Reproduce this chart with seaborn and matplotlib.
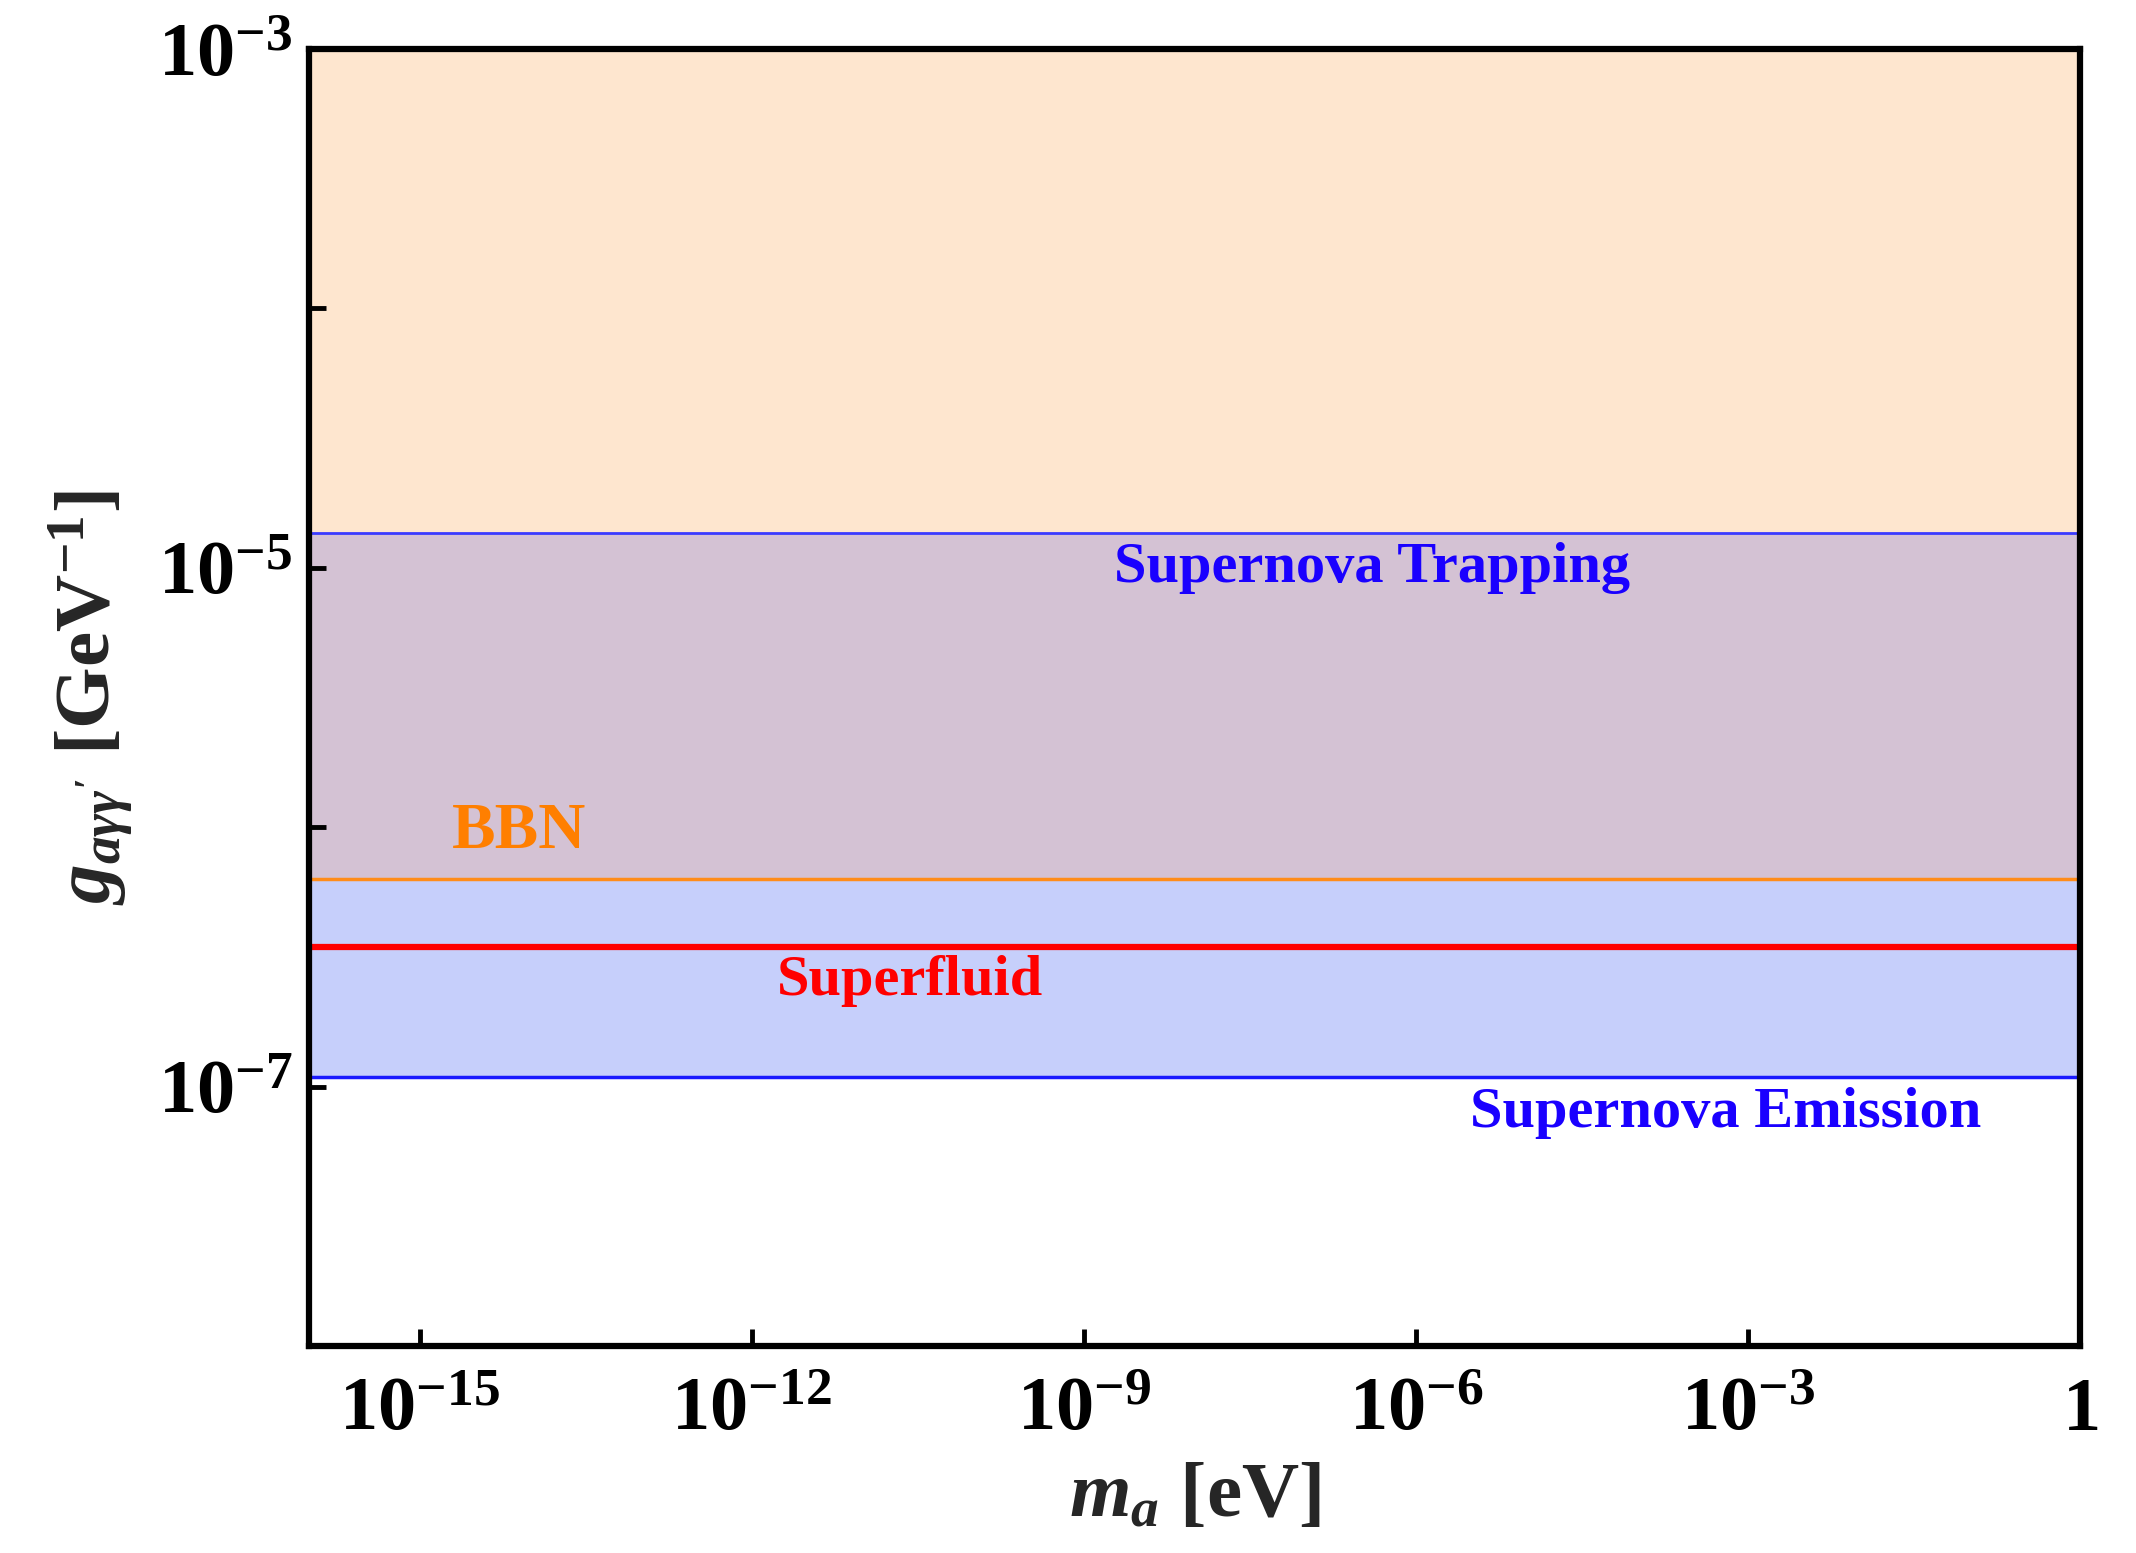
import numpy as np
import pandas as pd
import matplotlib
matplotlib.use("Agg")
import matplotlib.pyplot as plt
import seaborn as sns
from matplotlib.ticker import FixedLocator, FixedFormatter, NullLocator

# ---- data ----
mass_range = [1e-16, 1.0]                     # x extent [eV]
g_limits = [1e-8, 1e-3]                       # y extent [GeV^-1]
bound_names = ["Supernova Trapping", "BBN", "Superfluid", "Supernova Emission"]
bound_values = [1.36e-5, 6.3e-7, 3.45e-7, 1.09e-7]
bound_colors = ["#3a3aff", "#ff8c1a", "#ff0000", "#1a1aff"]
bound_widths = [2.0, 2.5, 4.5, 2.5]
label_colors = ["#1a00ff", "#ff7f00", "#ff0000", "#1a00ff"]
label_sizes = [42, 47, 42, 42]
label_x = [10**-6.4, 10**-14.1, 10**-10.57, 10**-3.2]
label_y = [1.0e-5, 0.96e-6, 2.55e-7, 7.9e-8]
x_ticks = [1e-15, 1e-12, 1e-9, 1e-6, 1e-3, 1.0]
x_tick_labels = [r"$\mathbf{10^{-15}}$", r"$\mathbf{10^{-12}}$", r"$\mathbf{10^{-9}}$",
                 r"$\mathbf{10^{-6}}$", r"$\mathbf{10^{-3}}$", r"$\mathbf{1}$"]
y_ticks = [1e-8, 1e-7, 1e-6, 1e-5, 1e-4, 1e-3]
y_tick_labels = ["", r"$\mathbf{10^{-7}}$", "", r"$\mathbf{10^{-5}}$", "", r"$\mathbf{10^{-3}}$"]

sns.set_theme(style="white")
plt.rcParams["font.family"] = ["Liberation Serif", "DejaVu Serif"]
plt.rcParams["font.weight"] = "bold"
plt.rcParams["mathtext.fontset"] = "custom"
plt.rcParams["mathtext.rm"] = "Liberation Serif:bold"
plt.rcParams["mathtext.bf"] = "Liberation Serif:bold"
plt.rcParams["mathtext.it"] = "Liberation Serif:italic:bold"

fig = plt.figure(figsize=(21.36, 15.53), dpi=100)
ax = fig.add_axes([0.1447, 0.1333, 0.8291, 0.8351])
ax.set_xscale("log")
ax.set_yscale("log")
ax.set_axisbelow(False)

trap, bbn, sfl, emis = bound_values
# shaded regions
ax.fill_between(mass_range, bbn, g_limits[1], color="#fee6cf", lw=0, zorder=1)
ax.fill_between(mass_range, emis, trap, color="#c6cffb", lw=0, zorder=1)
ax.fill_between(mass_range, bbn, trap, color="#d4c2d4", lw=0, zorder=1)

# boundary lines
df = pd.DataFrame({
    "m": np.tile(mass_range, len(bound_names)),
    "g": np.repeat(bound_values, len(mass_range)),
    "bound": np.repeat(bound_names, len(mass_range)),
})
for name, col, lw in zip(bound_names, bound_colors, bound_widths):
    sns.lineplot(data=df[df["bound"] == name], x="m", y="g", color=col,
                 linewidth=lw, ax=ax, zorder=3, legend=False)

for name, col, fs, xx, yy in zip(bound_names, label_colors, label_sizes, label_x, label_y):
    ax.text(xx, yy, name, color=col, fontsize=fs, fontweight="bold",
            family="Liberation Serif", ha="center", va="center", zorder=4)

ax.set_xlim(*mass_range)
ax.set_ylim(*g_limits)

ax.xaxis.set_major_locator(FixedLocator(x_ticks))
ax.xaxis.set_major_formatter(FixedFormatter(x_tick_labels))
ax.xaxis.set_minor_locator(NullLocator())
ax.yaxis.set_major_locator(FixedLocator(y_ticks))
ax.yaxis.set_major_formatter(FixedFormatter(y_tick_labels))
ax.yaxis.set_minor_locator(NullLocator())

ax.tick_params(axis="both", direction="in", length=12, width=3.5, color="black",
               labelsize=55, labelcolor="black", bottom=True, left=True,
               top=False, right=False)
ax.tick_params(axis="x", pad=22)
ax.tick_params(axis="y", pad=12)

for sp in ax.spines.values():
    sp.set_visible(True)
    sp.set_linewidth(4.5)
    sp.set_color("black")
    sp.set_zorder(5)

ax.set_xlabel(r"$m_a$ [eV]", fontsize=57, fontweight="bold", labelpad=12)
ax.set_ylabel(r"$g_{a\gamma\gamma^{\prime}}$ [GeV$^{-1}$]", fontsize=57,
              fontweight="bold", labelpad=16)
ax.grid(False)

fig.savefig("out.png", dpi=100)
